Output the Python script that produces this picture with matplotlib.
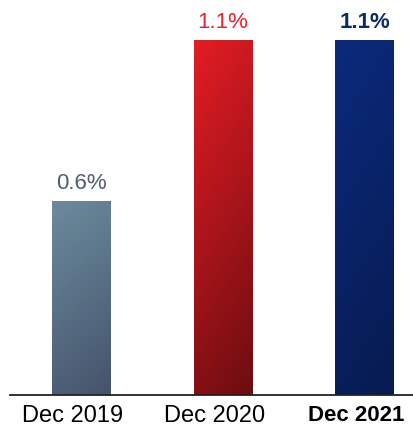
import numpy as np
import matplotlib.pyplot as plt
import matplotlib.transforms as mtransforms
from matplotlib.colors import LinearSegmentedColormap
from matplotlib.patches import Rectangle

categories = ["Dec 2019", "Dec 2020", "Dec 2021"]
values = [0.6, 1.1, 1.1]
labels = ["0.6%", "1.1%", "1.1%"]

# gradient ends (top-left, bottom-right) and label colour per bar
grad_colors = [("#6b8b9d", "#45536b"), ("#e41c24", "#6c0d10"), ("#0b2a7c", "#071b50")]
text_colors = ["#4d5d73", "#e8232b", "#0b2a6e"]
bold = [False, False, True]

fig = plt.figure(figsize=(4.13, 4.28), dpi=100)
ax = fig.add_axes([10 / 413, 33 / 428, 403 / 413, 395 / 428])

x = np.arange(len(categories))
width = 0.41
ymax = 1.1 * 395 / 355

# diagonal ramp, mostly vertical (row 0 = top of bar)
gy, gx = np.mgrid[0:1:200j, 0:1:50j]
ramp = 0.8 * gy + 0.2 * gx

for i, (xi, v) in enumerate(zip(x, values)):
    cmap = LinearSegmentedColormap.from_list(f"g{i}", grad_colors[i])
    left = xi - width / 2
    rect = Rectangle((left, 0), width, v, facecolor="none", edgecolor="none")
    ax.add_patch(rect)
    im = ax.imshow(ramp, cmap=cmap, extent=(left, left + width, 0, v),
                   aspect="auto", origin="upper", interpolation="bilinear")
    im.set_clip_path(rect)
    ax.text(xi, v + 0.022, labels[i], ha="center", va="bottom", fontsize=16,
            color=text_colors[i], fontweight="bold" if bold[i] else "normal",
            family="Liberation Sans")

ax.set_xlim(-0.501, 2.342)
ax.set_ylim(0, ymax)

for s in ["top", "right", "left"]:
    ax.spines[s].set_visible(False)
ax.spines["bottom"].set_linewidth(1.3)
ax.spines["bottom"].set_color("#222222")
ax.set_yticks([])
ax.set_xticks(x)
ax.set_xticklabels(categories, fontsize=17, family="Liberation Sans")
ax.tick_params(axis="x", length=0, pad=7)

# category labels sit a little left of the bar centres
shift = mtransforms.ScaledTranslation(-8 / 100, 0, fig.dpi_scale_trans)
for lab in ax.get_xticklabels():
    lab.set_transform(lab.get_transform() + shift)
last = ax.get_xticklabels()[2]
last.set_fontweight("bold")
last.set_fontsize(16)

fig.savefig("out.png", dpi=100)
